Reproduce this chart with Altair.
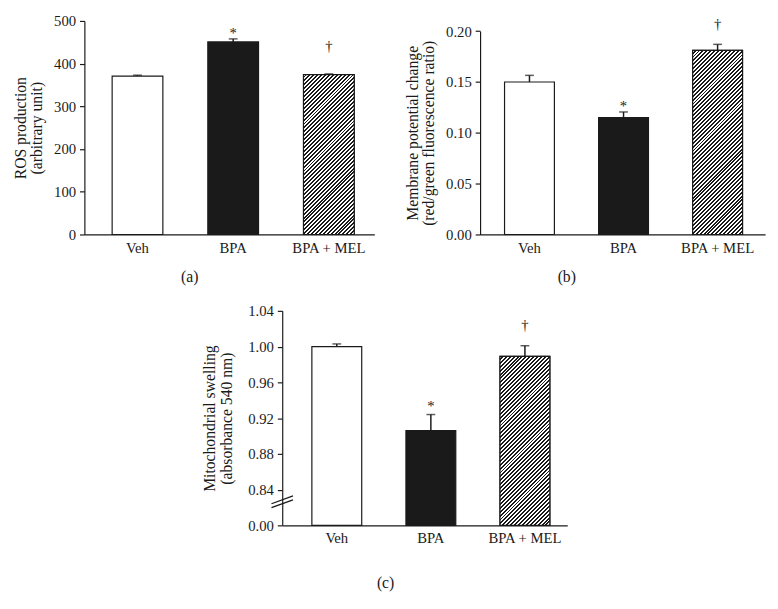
import altair as alt
import pandas as pd

# ---------------- data ----------------
groups = ["Veh", "BPA", "BPA + MEL"]
marks = ["", "*", "\u2020"]

ros = [371, 451, 374.5]
ros_err = [2, 7, 1.5]

mmp = [0.150, 0.115, 0.181]
mmp_err = [0.0065, 0.0055, 0.006]

swell = [1.000, 0.906, 0.989]
swell_err = [0.003, 0.018, 0.012]

ros_ticks = [0, 100, 200, 300, 400, 500]
mmp_ticks = [0.00, 0.05, 0.10, 0.15, 0.20]
swell_ticks = [0.80, 0.84, 0.88, 0.92, 0.96, 1.00, 1.04]   # 0.80 is shown as the broken "0.00"

# break marks on panel (c): (y start, y end) in data units
break_y1 = [0.8242, 0.8198]
break_y2 = [0.8329, 0.8286]

FONT = "Liberation Serif"
FS = 15
FS_TITLE = 16
INK = "#1a1a1a"
P_IN, P_OUT = 0.47, 0.25


def hatch_gradient(w, h, period=4.0):
    # 45 degree stripes in bounding-box gradient space
    denom = w * w + h * h
    dt = period * w / denom
    tmax = min(1.0, (w + h) * w / denom + dt)
    stops = []
    t = 0.0
    while t < tmax:
        a, b, c = t, min(1.0, t + dt * 0.5), min(1.0, t + dt)
        stops += [alt.GradientStop(color="white", offset=a),
                  alt.GradientStop(color="white", offset=b),
                  alt.GradientStop(color=INK, offset=b),
                  alt.GradientStop(color=INK, offset=c)]
        t += dt
    return alt.LinearGradient(gradient="linear", stops=stops,
                              x1=0, y1=0, x2=1, y2=h / w)


def panel(vals, errs, ticks, domain, width, height, range_top, title, caption,
          caption_x, caption_y, label_expr, star_dy, dag_dy, title_pad=9,
          band_align=0.5, breaks=False):
    df = pd.DataFrame({"group": groups, "value": vals, "err": errs, "mark": marks})
    df["top"] = df["value"] + df["err"]
    df["base"] = domain[0]

    yscale = alt.Scale(domain=domain, range=[height, range_top], nice=False, zero=False)
    xscale = alt.Scale(paddingInner=P_IN, paddingOuter=P_OUT, align=band_align)
    common = dict(labelFont=FONT, titleFont=FONT, labelFontSize=FS, titleFontSize=FS_TITLE,
                  labelColor=INK, titleColor=INK, titleFontWeight="normal",
                  domainColor=INK, domainWidth=1.2)
    xaxis = alt.Axis(title=caption, labelAngle=0, ticks=False, labelPadding=6,
                     titleX=caption_x, titleY=caption_y, titleAlign="center",
                     titleBaseline="top", **common)
    yaxis = alt.Axis(values=ticks, labelExpr=label_expr, grid=False, tickSize=5,
                     tickColor=INK, tickWidth=1.2, labelPadding=4, titlePadding=title_pad,
                     title=title, titleLineHeight=17, **common)

    def X():
        return alt.X("group:N", sort=groups, scale=xscale, axis=xaxis)

    def Y(field):
        return alt.Y(field, scale=yscale, axis=yaxis)

    base = alt.Chart(df)
    bars = base.mark_bar(stroke=INK, strokeWidth=1.2).encode(
        x=X(), y=Y("value:Q"), y2=alt.Y2("base:Q"),
        fill=alt.Fill("group:N", sort=groups,
                      scale=alt.Scale(domain=groups, range=["white", INK, "white"]),
                      legend=None),
    )

    step = width / (3 - P_IN + 2 * P_OUT)
    bw = step * (1 - P_IN)
    hv = (vals[2] - domain[0]) / (domain[1] - domain[0]) * (height - range_top)
    hatch = base.transform_filter(alt.datum.group == "BPA + MEL").mark_bar(
        fill=hatch_gradient(bw, hv), stroke=INK, strokeWidth=1.2).encode(
        x=X(), y=Y("value:Q"), y2=alt.Y2("base:Q"),
    )

    whisk = base.mark_rule(color=INK, strokeWidth=1.5).encode(
        x=X(), y=Y("value:Q"), y2=alt.Y2("top:Q"),
    )
    cap = base.mark_tick(color=INK, thickness=1.5, size=9).encode(
        x=X(), y=Y("top:Q"),
    )
    star = base.transform_filter(alt.datum.mark == "*").mark_text(
        font=FONT, fontSize=FS, color=INK, baseline="alphabetic", dy=star_dy).encode(
        x=X(), y=Y("top:Q"), text="mark:N",
    )
    dag = base.transform_filter(alt.datum.mark == "\u2020").mark_text(
        font=FONT, fontSize=FS, color=INK, baseline="alphabetic", dy=dag_dy).encode(
        x=X(), y=Y("top:Q"), text="mark:N",
    )
    layers = [bars, hatch, whisk, cap, star, dag]
    if breaks:
        bdf = pd.DataFrame({"y1": break_y1, "y2": break_y2})
        brk = alt.Chart(bdf).mark_rule(color=INK, strokeWidth=1.3).encode(
            x=alt.value(-11), x2=alt.value(11),
            y=Y("y1:Q"), y2=alt.Y2("y2:Q"),
        )
        layers.append(brk)
    return alt.layer(*layers).properties(width=width, height=height)


a = panel(ros, ros_err, ros_ticks, [0, 500], 296, 218, 0,
          ["ROS production", "(arbitrary unit)"], "(a)", 107, 35,
          "format(datum.value, 'd')", -1, -23, band_align=0.58)
b = panel(mmp, mmp_err, mmp_ticks, [0, 0.20], 291, 218, 10.4,
          ["Membrane potential change", "(red/green fluorescence ratio)"], "(b)", 88, 35,
          "format(datum.value, '.2f')", -1, -16, band_align=0.52)
c = panel(swell, swell_err, swell_ticks, [0.80, 1.04], 291, 219, 0,
          ["Mitochondrial swelling", "(absorbance 540 nm)"], "(c)", 105, 50,
          "datum.value < 0.81 ? '0.00' : format(datum.value, '.2f')", -4, -16,
          title_pad=14, band_align=0.63, breaks=True)

top = alt.hconcat(a, b, spacing=30)
chart = alt.vconcat(top, c, spacing=20, center=True).properties(
    padding={"left": 4, "top": 0, "right": 5, "bottom": 5}
).configure_view(stroke=None)

chart.save("out.html", embed_options={"renderer": "svg", "actions": False})
